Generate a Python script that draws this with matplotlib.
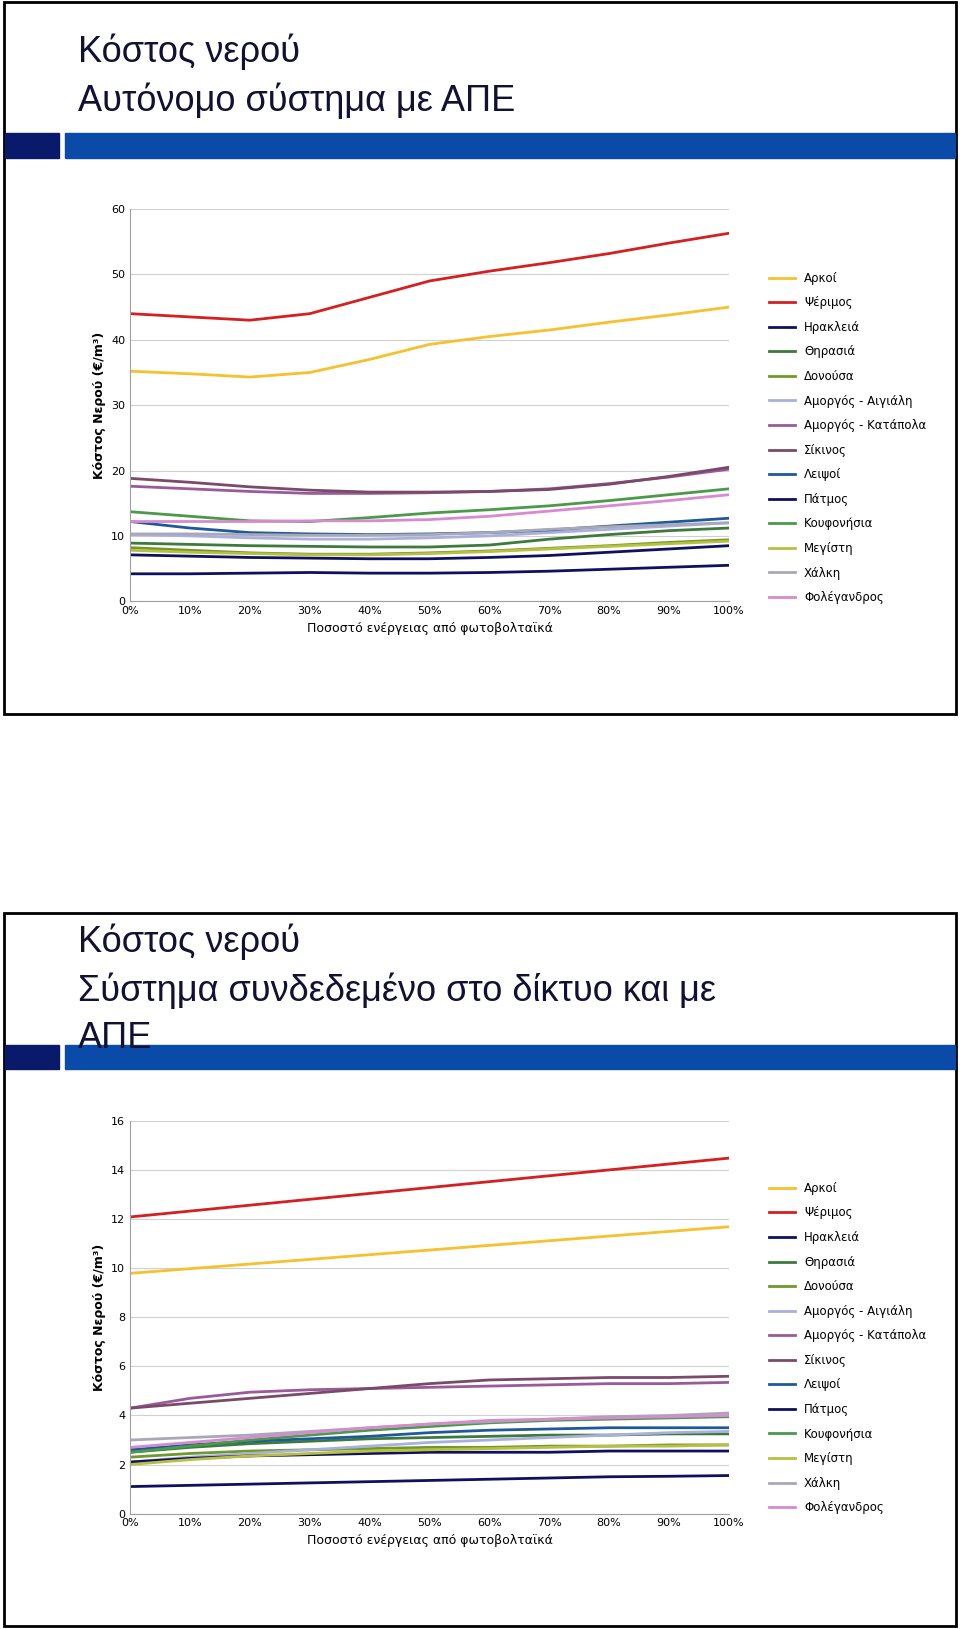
import matplotlib
matplotlib.use("Agg")
import matplotlib.pyplot as plt
from matplotlib.patches import Rectangle

x_pct = [0, 10, 20, 30, 40, 50, 60, 70, 80, 90, 100]
names = ["Αρκοί", "Ψέριμος", "Ηρακλειά", "Θηρασιά", "Δονούσα", "Αμοργός - Αιγιάλη",
         "Αμοργός - Κατάπολα", "Σίκινος", "Λειψοί", "Πάτμος", "Κουφονήσια", "Μεγίστη",
         "Χάλκη", "Φολέγανδρος"]
colors = ["#F5C12E", "#D42020", "#101060", "#3E7A3E", "#6E9A2A", "#AAB0DD",
          "#9A5A9A", "#7A4A6A", "#1E5A9A", "#101060", "#4A9A4A", "#B8C040",
          "#A8A8B8", "#D88AD0"]

autonomous = [
    [35.2, 34.8, 34.3, 35, 37, 39.3, 40.5, 41.5, 42.7, 43.8, 45],
    [44, 43.5, 43, 44, 46.5, 49, 50.5, 51.8, 53.2, 54.8, 56.3],
    [4.2, 4.2, 4.3, 4.4, 4.3, 4.3, 4.4, 4.6, 4.9, 5.2, 5.5],
    [8.9, 8.7, 8.5, 8.4, 8.3, 8.3, 8.6, 9.5, 10.2, 10.8, 11.2],
    [8.2, 7.8, 7.4, 7.2, 7.2, 7.4, 7.7, 8.1, 8.5, 9, 9.4],
    [10.2, 10, 9.7, 9.5, 9.5, 9.7, 10, 10.5, 11, 11.5, 12],
    [17.6, 17.2, 16.8, 16.5, 16.5, 16.6, 16.8, 17.2, 18, 19, 20.2],
    [18.8, 18.2, 17.5, 17, 16.7, 16.7, 16.8, 17.1, 17.9, 19.1, 20.5],
    [12.2, 11.2, 10.5, 10.3, 10.2, 10.3, 10.5, 10.9, 11.5, 12.1, 12.7],
    [7.1, 6.9, 6.7, 6.6, 6.5, 6.5, 6.7, 7, 7.5, 8, 8.5],
    [13.7, 13, 12.3, 12.2, 12.8, 13.5, 14, 14.6, 15.4, 16.3, 17.2],
    [7.8, 7.5, 7.3, 7.1, 7.1, 7.3, 7.6, 8.0, 8.4, 8.8, 9.2],
    [10.3, 10.3, 10.2, 10.1, 10.1, 10.2, 10.5, 11, 11.4, 11.7, 12],
    [12.2, 12.2, 12.2, 12.3, 12.3, 12.5, 13, 13.8, 14.6, 15.4, 16.3],
]
grid_tied = [
    [9.8, 9.99, 10.18, 10.37, 10.56, 10.75, 10.94, 11.13, 11.32, 11.51, 11.7],
    [12.1, 12.34, 12.58, 12.82, 13.06, 13.3, 13.54, 13.78, 14.02, 14.26, 14.5],
    [1.1, 1.15, 1.2, 1.25, 1.3, 1.35, 1.4, 1.45, 1.5, 1.52, 1.55],
    [2.5, 2.7, 2.85, 2.95, 3.05, 3.1, 3.15, 3.2, 3.2, 3.25, 3.25],
    [2.3, 2.45, 2.55, 2.6, 2.65, 2.7, 2.7, 2.75, 2.75, 2.8, 2.8],
    [2.1, 2.3, 2.45, 2.6, 2.75, 2.9, 3.0, 3.1, 3.2, 3.3, 3.35],
    [4.3, 4.7, 4.95, 5.05, 5.1, 5.15, 5.2, 5.25, 5.3, 5.3, 5.35],
    [4.3, 4.5, 4.7, 4.9, 5.1, 5.3, 5.45, 5.5, 5.55, 5.55, 5.6],
    [2.6, 2.8, 2.95, 3.05, 3.15, 3.3, 3.4, 3.45, 3.5, 3.5, 3.5],
    [2.1, 2.25, 2.35, 2.4, 2.45, 2.5, 2.5, 2.5, 2.55, 2.55, 2.55],
    [2.5, 2.75, 3.0, 3.2, 3.4, 3.55, 3.7, 3.8, 3.85, 3.9, 3.95],
    [2.0, 2.2, 2.35, 2.45, 2.55, 2.6, 2.65, 2.7, 2.75, 2.75, 2.8],
    [3.0, 3.1, 3.2, 3.35, 3.5, 3.65, 3.75, 3.85, 3.95, 4.0, 4.1],
    [2.7, 2.9, 3.1, 3.3, 3.5, 3.65, 3.8, 3.85, 3.9, 3.95, 4.0],
]

W, H = 922, 1566
fig = plt.figure(figsize=(9.6, 16.29), dpi=100)

def fx(px): return px / W
def fy(py): return 1 - py / H

def panel(top, bottom, titles, title_ys, bar_y0, bar_y1):
    fig.patches.append(Rectangle((fx(4), fy(bottom)), fx(914), (bottom - top) / H,
                                 transform=fig.transFigure, fill=False, ec="black", lw=2))
    fig.patches.append(Rectangle((fx(5), fy(bar_y1)), fx(52), (bar_y1 - bar_y0) / H,
                                 transform=fig.transFigure, color="#0A1A6A"))
    fig.patches.append(Rectangle((fx(62), fy(bar_y1)), fx(855), (bar_y1 - bar_y0) / H,
                                 transform=fig.transFigure, color="#0A4AA8"))
    for t, y in zip(titles, title_ys):
        fig.text(fx(75), fy(y), t, fontsize=26, va="center", ha="left",
                 color="#111133", family="Liberation Sans")

def chart(data, ytop, ybot, ymax, step, leg_y0, leg_y1):
    ax = fig.add_axes([fx(125), fy(ybot), fx(575), (ybot - ytop) / H])
    for n, c, d in zip(names, colors, data):
        ax.plot(x_pct, d, color=c, lw=2, label=n)
    ax.set_xlim(0, 100); ax.set_ylim(0, ymax)
    ax.set_xticks(x_pct); ax.set_xticklabels([f"{v}%" for v in x_pct])
    ax.set_yticks(range(0, ymax + 1, step))
    ax.grid(axis="y", color="#D0D0D0", lw=0.8)
    ax.set_axisbelow(True)
    for s in ["top", "right"]: ax.spines[s].set_visible(False)
    for s in ["left", "bottom"]: ax.spines[s].set_color("#A0A0A0")
    ax.tick_params(labelsize=8, length=0)
    ax.set_xlabel("Ποσοστό ενέργειας από φωτοβολταϊκά", fontsize=9)
    ax.set_ylabel("Κόστος Νερού (€/m³)", fontsize=9, fontweight="bold")
    h, l = ax.get_legend_handles_labels()
    fig.legend(h, l, loc="upper left", bbox_to_anchor=(fx(728), fy(leg_y0 - 12)),
               frameon=False, fontsize=8.5, labelspacing=0.98, handlelength=2.2)

panel(2, 686, ["Κόστος νερού", "Αυτόνομο σύστημα με ΑΠΕ"], [50, 97], 128, 152)
chart(autonomous, 201, 578, 60, 10, 263, 561)
panel(878, 1563, ["Κόστος νερού", "Σύστημα συνδεδεμένο στο δίκτυο και με", "ΑΠΕ"],
      [905, 952, 998], 1005, 1028)
chart(grid_tied, 1078, 1455, 16, 2, 1138, 1438)

fig.savefig("out.png", dpi=100)
